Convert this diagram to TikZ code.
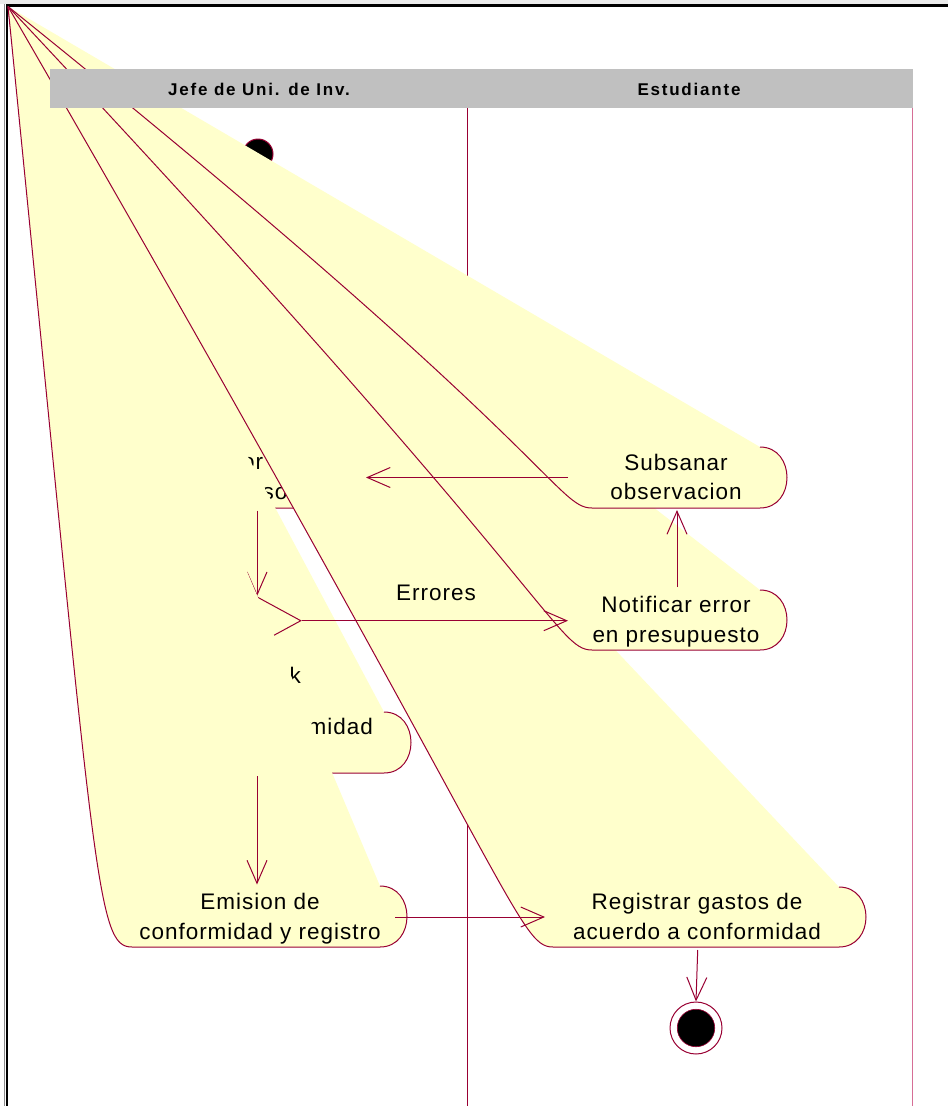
\documentclass[tikz,border=0pt]{standalone}
\usepackage{fontspec}
\setmainfont{Liberation Sans}[LetterSpace=4.4]
\newfontfamily\hdrfont{Liberation Sans}[LetterSpace=10.5]
\usetikzlibrary{arrows.meta,shapes.geometric}
\definecolor{rosered}{RGB}{153,0,51}
\definecolor{rosepink}{RGB}{214,110,150}
\definecolor{actyellow}{RGB}{255,255,204}
\definecolor{hdrgrey}{RGB}{192,192,192}

% activity shape: left end x0, right end x1, top y, bottom y
% (its left arc starts at the shared apex "fan")
\newcommand{\actfan}[4]{%
  \fill[actfill] (fan) .. controls ({#1-36},#3) and ({#1-36},#4) .. (#1,#4) -- (#2,#4)
     .. controls ({#2+36},#4) and ({#2+36},#3) .. (#2,#3) -- cycle;
  \draw[actline] (fan) .. controls ({#1-36},#3) and ({#1-36},#4) .. (#1,#4) -- (#2,#4)
     .. controls ({#2+36},#4) and ({#2+36},#3) .. (#2,#3);
}

\begin{document}
\begin{tikzpicture}[x=1pt,y=-1pt,
  actfill/.style={fill=actyellow},
  actline/.style={draw=rosered, line width=1pt, line join=round},
  flow/.style={draw=rosered, line width=1pt,
    -{Straight Barb[length=23pt,width=20pt,line width=1pt]}},
  lbl/.style={font=\fontsize{22.5}{27}\selectfont, inner sep=0pt},
  hdr/.style={font=\hdrfont\bfseries\fontsize{17}{20}\selectfont, inner sep=0pt}]

\fill[white] (0,0) rectangle (948,1106);
\useasboundingbox (0,0) rectangle (948,1106);

% frame
\fill[black!8] (0,0) rectangle (948,4.2);
\draw[black!45, line width=1pt] (4.3,4) -- (4.3,1106);
\draw[black, line width=2.5pt] (6,5.3) -- (948,5.3);
\draw[black, line width=2pt] (7.2,4.2) -- (7.2,1106);

% swimlane separators
\draw[rosered, line width=1pt] (467.3,108) -- (467.3,1106);
\draw[rosepink, line width=1.3pt] (912.5,108) -- (912.5,1106);

\coordinate (fan) at (8,6.5);

% initial state
\node[circle, fill=black, draw=rosered, line width=1pt, minimum size=30pt, inner sep=0pt] (start) at (258,154) {};

% review activity
\actfan{178}{338}{447}{508}
\node[lbl, anchor=base west] (revA) at (242,469.5) {or};
\node[lbl, anchor=base west] (revB) at (262.5,499.5) {so};

% conformity activity
\actfan{132}{384}{712}{773}
\node[lbl, anchor=base east] (confA) at (373,734.5) {midad};

% decision
\node[diamond, draw=rosered, fill=actyellow, line width=1pt, minimum width=88pt,
      minimum height=48pt, inner sep=0pt] (dec) at (257,620.7) {};
\coordinate (revS) at (257,510.5);
\draw[flow] (revS) -- (dec.north);
\node[lbl, anchor=base east] (ok) at (301,683) {Ok};

% Emision de conformidad y registro
\actfan{132}{380}{886}{947}
\node[lbl, anchor=base] (emiA) at (260,909.5) {Emision de};
\node[lbl, anchor=base] (emiB) at (260,939.5) {conformidad y registro};

% Registrar gastos
\actfan{553}{839}{887}{947}
\node[lbl, anchor=base] (regA) at (697,909.5) {Registrar gastos de};
\node[lbl, anchor=base] (regB) at (697,939.5) {acuerdo a conformidad};

% Notificar error
\actfan{592}{760}{590}{650}
\node[lbl, anchor=base] (notA) at (676,612.5) {Notificar error};
\node[lbl, anchor=base] (notB) at (676,642) {en presupuesto};

% Subsanar observacion
\actfan{592}{760}{447}{508}
\node[lbl, anchor=base] (subA) at (676,470) {Subsanar};
\node[lbl, anchor=base] (subB) at (676,499.5) {observacion};

% transitions
\coordinate (subW) at (568,477.5);
\coordinate (revE) at (366,477.5);
\draw[flow] (subW) -- (revE);

\coordinate (notW) at (568,620.7);
\draw[flow] (dec.east) -- (notW);
\node[lbl, anchor=base] (err) at (436,600) {Errores};

\coordinate (notN) at (677,587);
\coordinate (subS) at (677,510);
\draw[flow] (notN) -- (subS);

\coordinate (confS) at (257,776);
\coordinate (emiN) at (257,884.5);
\draw[flow] (confS) -- (emiN);

\coordinate (emiE) at (395,917);
\coordinate (regW) at (545,917);
\draw[flow] (emiE) -- (regW);

% final state
\node[circle, draw=rosered, fill=white, line width=1pt, minimum size=52pt, inner sep=0pt] (stop) at (696,1028) {};
\node[circle, fill=black, draw=rosered, line width=0.6pt, minimum size=37.5pt, inner sep=0pt] (stopcore) at (stop.center) {};
\coordinate (regS) at (697.7,950);
\draw[flow] (regS) -- (stop.north);

% lane headers
\fill[hdrgrey] (50,69) rectangle (913,108);
\node[hdr, anchor=base] (laneA) at (259,95) {Jefe de Uni. de Inv.};
\node[hdr, anchor=base] (laneB) at (689,95) {Estudiante};

\end{tikzpicture}
\end{document}
